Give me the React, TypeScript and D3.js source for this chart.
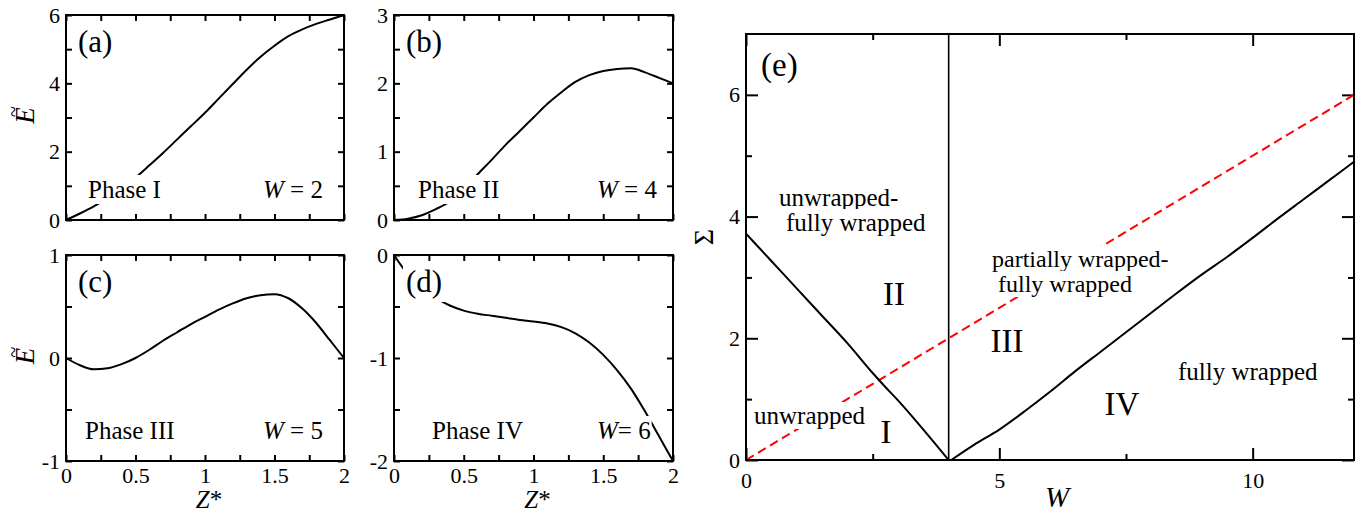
import React, { useRef, useEffect } from 'react';
import * as d3 from 'd3';

// ---- panels (a)-(d): energy profile along Z* ----
const zStar = [0, 0.1, 0.2, 0.3, 0.4, 0.5, 0.6, 0.7, 0.8, 0.9, 1.0, 1.1, 1.2, 1.3, 1.4, 1.5, 1.6, 1.7, 1.8, 1.9, 2.0];
const energyW2 = [0, 0.19, 0.4, 0.65, 0.93, 1.24, 1.6, 1.97, 2.36, 2.75, 3.14, 3.56, 3.98, 4.4, 4.78, 5.1, 5.38, 5.58, 5.74, 5.87, 6.0];
const energyW4 = [0, 0.02, 0.07, 0.16, 0.27, 0.45, 0.67, 0.88, 1.1, 1.3, 1.5, 1.7, 1.87, 2.02, 2.12, 2.18, 2.21, 2.22, 2.16, 2.08, 2.0];
const energyW5 = [0, -0.07, -0.11, -0.1, -0.06, 0.0, 0.08, 0.17, 0.25, 0.33, 0.4, 0.47, 0.53, 0.58, 0.61, 0.62, 0.58, 0.48, 0.34, 0.17, 0.0];
const energyW6 = [0, -0.19, -0.33, -0.42, -0.49, -0.54, -0.57, -0.59, -0.61, -0.63, -0.645, -0.665, -0.7, -0.76, -0.85, -0.97, -1.12, -1.3, -1.52, -1.76, -2.0];

const zMajor = [0, 0.5, 1, 1.5, 2];
const zMinor = [0.25, 0.75, 1.25, 1.75];
const zTickLabels = ['0', '0.5', '1', '1.5', '2'];

// ---- panel (e): phase diagram ----
const wLeftBoundary = [0, 0.5, 1, 1.5, 2, 2.5, 2.75, 3, 3.5, 4];
const sigmaLeftBoundary = [3.72, 3.27, 2.82, 2.37, 1.92, 1.43, 1.2, 0.98, 0.5, 0];
const wRightBoundary = [4.05, 4.5, 5, 5.5, 6, 6.5, 7, 7.5, 8, 8.5, 9, 9.5, 10, 10.5, 11, 11.5, 12];
const sigmaRightBoundary = [0, 0.25, 0.5, 0.8, 1.12, 1.46, 1.78, 2.1, 2.42, 2.74, 3.05, 3.34, 3.65, 3.97, 4.28, 4.59, 4.9];
const wCritical = 4;
const wDashed = [0, 12];
const sigmaDashed = [0, 6];

const wMajor = [0, 5, 10];
const wMinor = [2.5, 7.5];
const wTickLabels = ['0', '5', '10'];
const sigmaMajor = [0, 2, 4, 6];
const sigmaMinor = [1, 3, 5];
const sigmaTickLabels = ['0', '2', '4', '6'];

const FONT = "'Liberation Serif', 'Times New Roman', serif";

const addAxis = (g, axis, transform, values, len, fmt, pad) => {
  const a = g
    .append('g')
    .attr('transform', transform)
    .call(
      axis
        .tickValues(values)
        .tickSizeInner(-len)
        .tickSizeOuter(0)
        .tickPadding(pad)
        .tickFormat(fmt)
    );
  a.attr('font-family', FONT);
  a.select('.domain').remove();
  a.selectAll('line').attr('stroke', '#000').attr('stroke-width', 2);
  a.selectAll('text')
    .attr('font-family', FONT)
    .attr('font-size', 22)
    .attr('fill', '#000');
  return a;
};

// text with an optional white box behind it (hides lines that run under it)
const addText = (g, x, y, parts, size, pad = -1, anchor = 'start') => {
  const t = g
    .append('text')
    .attr('x', x)
    .attr('y', y)
    .attr('font-family', FONT)
    .attr('font-size', size)
    .attr('text-anchor', anchor)
    .style('white-space', 'pre');
  parts.forEach(([s, italic]) =>
    t.append('tspan').attr('font-style', italic ? 'italic' : 'normal').text(s)
  );
  if (pad >= 0) {
    const b = t.node().getBBox();
    g.insert('rect', () => t.node())
      .attr('x', b.x - pad)
      .attr('y', b.y - pad)
      .attr('width', b.width + 2 * pad)
      .attr('height', b.height + 2 * pad)
      .attr('fill', '#fff');
  }
  return t;
};

const energyTitle = (g, cx, cy) => {
  const t = g.append('g').attr('transform', `translate(${cx},${cy}) rotate(-90)`);
  t.append('text')
    .attr('text-anchor', 'middle')
    .attr('font-family', FONT)
    .attr('font-style', 'italic')
    .attr('font-size', 27)
    .text('E');
  t.append('text')
    .attr('x', 4)
    .attr('y', -14)
    .attr('text-anchor', 'middle')
    .attr('font-family', FONT)
    .attr('font-size', 20)
    .text('~');
};

const panels = [
  { tag: '(a)', energy: energyW2, yDomain: [0, 6], yMajor: [0, 2, 4, 6], yMinor: [1, 3, 5], yLabels: ['0', '2', '4', '6'],
    phase: 'Phase I', w: ' = 2', l: 66, r: 344, t: 15, b: 220, phaseDx: 22, wDx: 197, xLabels: false, yTitle: true },
  { tag: '(b)', energy: energyW4, yDomain: [0, 3], yMajor: [0, 1, 2, 3], yMinor: [0.5, 1.5, 2.5], yLabels: ['0', '1', '2', '3'],
    phase: 'Phase II', w: ' = 4', l: 394, r: 673, t: 15, b: 220, phaseDx: 24, wDx: 203, xLabels: false, yTitle: false },
  { tag: '(c)', energy: energyW5, yDomain: [-1, 1], yMajor: [-1, 0, 1], yMinor: [-0.5, 0.5], yLabels: ['-1', '0', '1'],
    phase: 'Phase III', w: ' = 5', l: 66, r: 344, t: 255, b: 461, phaseDx: 19, wDx: 197, xLabels: true, yTitle: true },
  { tag: '(d)', energy: energyW6, yDomain: [-2, 0], yMajor: [-2, -1, 0], yMinor: [-1.5, -0.5], yLabels: ['-2', '-1', '0'],
    phase: 'Phase IV', w: '= 6', l: 394, r: 673, t: 255, b: 461, phaseDx: 38, wDx: 203, xLabels: true, yTitle: false },
];

const App = () => {
  const ref = useRef(null);

  useEffect(() => {
    const svg = d3.select(ref.current);
    svg.selectAll('*').remove();

    // small energy panels
    panels.forEach((p) => {
      const g = svg.append('g');
      const x = d3.scaleLinear().domain([0, 2]).range([p.l, p.r]);
      const y = d3.scaleLinear().domain(p.yDomain).range([p.b, p.t]);
      const none = () => '';

      addAxis(g, d3.axisBottom(x), `translate(0,${p.b})`, zMajor, 6, p.xLabels ? (d, i) => zTickLabels[i] : none, 6);
      addAxis(g, d3.axisBottom(x), `translate(0,${p.b})`, zMinor, 6, none, 6);
      addAxis(g, d3.axisTop(x), `translate(0,${p.t})`, zMajor.concat(zMinor), 6, none, 7);
      addAxis(g, d3.axisLeft(y), `translate(${p.l},0)`, p.yMajor, 6, (d, i) => p.yLabels[i], 6);
      addAxis(g, d3.axisLeft(y), `translate(${p.l},0)`, p.yMinor, 6, none, 6);
      addAxis(g, d3.axisRight(y), `translate(${p.r},0)`, p.yMajor.concat(p.yMinor), 6, none, 6);

      const line = d3
        .line()
        .x((d, i) => x(zStar[i]))
        .y((d) => y(d))
        .curve(d3.curveMonotoneX);
      g.append('path')
        .datum(p.energy)
        .attr('d', line)
        .attr('fill', 'none')
        .attr('stroke', '#000')
        .attr('stroke-width', 2);

      g.append('rect')
        .attr('x', p.l).attr('y', p.t)
        .attr('width', p.r - p.l).attr('height', p.b - p.t)
        .attr('fill', 'none').attr('stroke', '#000').attr('stroke-width', 2);

      addText(g, p.l + 12, p.t + 37, [[p.tag, false]], 31, 3);
      addText(g, p.l + p.phaseDx, p.b - 22, [[p.phase, false]], 25, 1);
      addText(g, p.l + p.wDx, p.b - 22, [['W', true], [p.w, false]], 25, 1);

      if (p.yTitle) energyTitle(g, 34, (p.t + p.b) / 2 - 2);
      if (p.xLabels) {
        addText(g, (p.l + p.r) / 2 + 4, 508, [['Z', true], ['*', false]], 25, -1, 'middle');
      }
    });

    // phase diagram
    const ge = svg.append('g');
    const x = d3.scaleLinear().domain([0, 12]).range([746, 1354]);
    const y = d3.scaleLinear().domain([0, 7]).range([460, 34]);
    const none = () => '';

    addAxis(ge, d3.axisBottom(x), 'translate(0,460)', wMajor, 12, (d, i) => wTickLabels[i], 12);
    addAxis(ge, d3.axisBottom(x), 'translate(0,460)', wMinor, 6, none, 12);
    addAxis(ge, d3.axisTop(x), 'translate(0,34)', wMajor, 12, none, 6);
    addAxis(ge, d3.axisTop(x), 'translate(0,34)', wMinor, 6, none, 6);
    addAxis(ge, d3.axisLeft(y), 'translate(746,0)', sigmaMajor, 12, (d, i) => sigmaTickLabels[i], 6);
    addAxis(ge, d3.axisLeft(y), 'translate(746,0)', sigmaMinor, 6, none, 6);
    addAxis(ge, d3.axisRight(y), 'translate(1354,0)', sigmaMajor, 12, none, 6);
    addAxis(ge, d3.axisRight(y), 'translate(1354,0)', sigmaMinor, 6, none, 6);

    const boundary = (ws, ss) =>
      d3
        .line()
        .x((d, i) => x(ws[i]))
        .y((d) => y(d))
        .curve(d3.curveMonotoneX)(ss);

    ge.append('path')
      .attr('d', boundary(wDashed, sigmaDashed))
      .attr('fill', 'none')
      .attr('stroke', '#ff0000')
      .attr('stroke-width', 2)
      .attr('stroke-dasharray', '9,5');
    ge.append('path')
      .attr('d', boundary(wLeftBoundary, sigmaLeftBoundary))
      .attr('fill', 'none').attr('stroke', '#000').attr('stroke-width', 2);
    ge.append('path')
      .attr('d', boundary(wRightBoundary, sigmaRightBoundary))
      .attr('fill', 'none').attr('stroke', '#000').attr('stroke-width', 2);
    ge.append('line')
      .attr('x1', x(wCritical)).attr('x2', x(wCritical))
      .attr('y1', y(0)).attr('y2', y(7))
      .attr('stroke', '#000').attr('stroke-width', 1.6);

    ge.append('rect')
      .attr('x', 746).attr('y', 34).attr('width', 608).attr('height', 426)
      .attr('fill', 'none').attr('stroke', '#000').attr('stroke-width', 2);

    addText(ge, 761, 76, [['(e)', false]], 33, 0);
    addText(ge, 779, 206, [['unwrapped-', false]], 25, 0);
    addText(ge, 786, 231, [['fully wrapped', false]], 25, 0);
    addText(ge, 992, 267, [['partially wrapped-', false]], 24, 0);
    addText(ge, 998, 292, [['fully wrapped', false]], 24, 0);
    addText(ge, 1178, 380, [['fully wrapped', false]], 25, 0);
    addText(ge, 754, 424, [['unwrapped', false]], 25, 0);
    addText(ge, 894, 305, [['II', false]], 33, 0, 'middle');
    addText(ge, 1007, 352, [['III', false]], 33, 0, 'middle');
    addText(ge, 1122, 415, [['IV', false]], 33, 0, 'middle');
    addText(ge, 886, 443, [['I', false]], 33, 0, 'middle');

    ge.append('text')
      .attr('transform', 'translate(713,237) rotate(-90)')
      .attr('text-anchor', 'middle')
      .attr('font-family', FONT)
      .attr('font-size', 28)
      .text('\u03A3');
    addText(ge, 1057, 507, [['W', true]], 29, -1, 'middle');
  }, []);

  return (
    <svg
      ref={ref}
      width={1362}
      height={515}
      style={{ position: 'absolute', left: 0, top: 0, background: '#fff' }}
    />
  );
};

export default App;
